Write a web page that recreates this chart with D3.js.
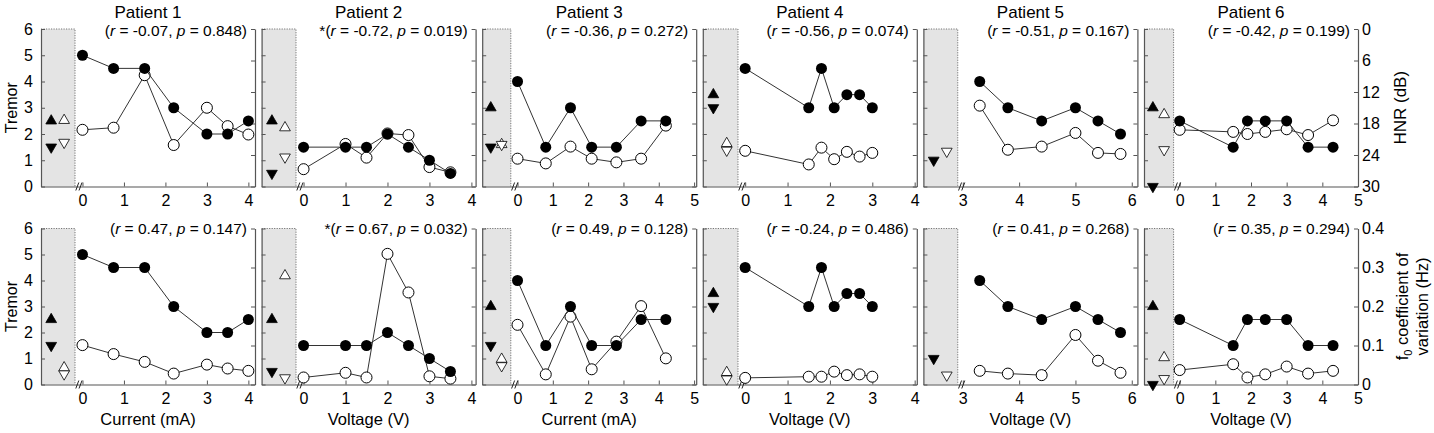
<!DOCTYPE html>
<html>
<head>
<meta charset="utf-8">
<script src="https://cdn.jsdelivr.net/npm/d3@7"></script>
<style>
  body { margin: 0; background: #fff; }
  text { font-family: "Liberation Sans", Arial, sans-serif; fill: #000; }
</style>
</head>
<body>
<svg id="chart" width="1434" height="433"></svg>
<script>
// ---- data ----
const patients = ["Patient 1", "Patient 2", "Patient 3", "Patient 4", "Patient 5", "Patient 6"];
const xLabels = ["Current (mA)", "Voltage (V)", "Current (mA)", "Voltage (V)", "Voltage (V)", "Voltage (V)"];
const xTicks = [[0, 1, 2, 3, 4], [0, 1, 2, 3, 4], [0, 1, 2, 3, 4, 5], [0, 1, 2, 3, 4], [3, 4, 5, 6], [0, 1, 2, 3, 4, 5]];
const tremorTicks = [0, 1, 2, 3, 4, 5, 6];
const hnrTicks = [0, 6, 12, 18, 24, 30];
const cvTicks = [0, 0.1, 0.2, 0.3, 0.4];

// stimulation amplitude per patient
const stim = [
  [0, 0.75, 1.5, 2.2, 3, 3.5, 4],
  [0, 1, 1.5, 2, 2.5, 3, 3.5],
  [0, 0.8, 1.5, 2.1, 2.8, 3.5, 4.2],
  [0, 1.5, 1.8, 2.1, 2.4, 2.7, 3],
  [3.3, 3.8, 4.4, 5, 5.4, 5.8],
  [0, 1.5, 1.9, 2.4, 3, 3.6, 4.3]
];
// tremor rating (filled circles)
const tremor = [
  [5, 4.5, 4.5, 3, 2, 2, 2.5],
  [1.5, 1.5, 1.5, 2, 1.5, 1, 0.5],
  [4, 1.5, 3, 1.5, 1.5, 2.5, 2.5],
  [4.5, 3, 4.5, 3, 3.5, 3.5, 3],
  [4, 3, 2.5, 3, 2.5, 2],
  [2.5, 1.5, 2.5, 2.5, 2.5, 1.5, 1.5]
];
// HNR in dB (open circles, top row)
const hnr = [
  [19.2, 18.8, 8.8, 22.1, 15.0, 18.5, 20.1],
  [26.7, 21.9, 24.5, 19.9, 20.2, 26.3, 27.3],
  [24.7, 25.6, 22.4, 24.7, 25.4, 24.7, 18.4],
  [23.2, 25.8, 22.6, 24.8, 23.4, 24.3, 23.6],
  [14.6, 23.0, 22.4, 19.8, 23.6, 23.8],
  [19.2, 19.6, 20.0, 19.6, 19.1, 20.2, 17.4]
];
// f0 coefficient of variation (open circles, bottom row)
const f0cv = [
  [0.101, 0.078, 0.058, 0.028, 0.051, 0.041, 0.035],
  [0.018, 0.030, 0.018, 0.335, 0.236, 0.021, 0.015],
  [0.153, 0.026, 0.174, 0.039, 0.110, 0.201, 0.067],
  [0.017, 0.020, 0.020, 0.033, 0.024, 0.026, 0.020],
  [0.035, 0.028, 0.024, 0.127, 0.061, 0.030],
  [0.037, 0.052, 0.018, 0.026, 0.046, 0.028, 0.035]
];
// off-stimulation values (triangles in the shaded box), null = not shown
const tremorUp = [2.5, 2.5, 3, 3.5, null, 3];
const tremorDown = [1.5, 0.5, 1.5, 3, 1, 0];
const hnrUp = [17.4, 18.8, 22.0, 21.8, null, 16.3];
const hnrDown = [21.6, 24.4, 22.0, 23.1, 23.3, 23.0];
const cvUp = [0.043, 0.279, 0.065, 0.031, null, 0.069];
const cvDown = [0.027, 0.017, 0.048, 0.014, 0.024, 0.015];

// correlation stats
const hnrR = ["-0.07", "-0.72", "-0.36", "-0.56", "-0.51", "-0.42"];
const hnrP = ["0.848", "0.019", "0.272", "0.074", "0.167", "0.199"];
const cvR = ["0.47", "0.67", "0.49", "-0.24", "0.41", "0.35"];
const cvP = ["0.147", "0.032", "0.128", "0.486", "0.268", "0.294"];

// ---- layout ----
const xDomains = [[-1, 4.16], [-1, 4.1], [-1, 5.06], [-1, 4.05], [2.3, 6.1], [-1, 5]];
const grayEnd = [-0.18, -0.18, -0.19, -0.17, 2.91, -0.17];
const panelX0 = 41, panelStep = 220.6, panelW = 214;
const rows = [
  { top: 29, bottom: 186.5, statY: 35.5 },
  { top: 228.5, bottom: 384.5, statY: 233.5 }
];
const axisColor = "#555";
const lineColor = "#333";

const svg = d3.select("#chart");

rows.forEach((row, ri) => {
  const openVals = ri === 0 ? hnr : f0cv;
  const openUp = ri === 0 ? hnrUp : cvUp;
  const openDown = ri === 0 ? hnrDown : cvDown;
  const rVals = ri === 0 ? hnrR : cvR;
  const pVals = ri === 0 ? hnrP : cvP;

  patients.forEach((name, i) => {
    const L = panelX0 + i * panelStep;
    const R = L + panelW;
    const g = svg.append("g");

    const x = d3.scaleLinear().domain(xDomains[i]).range([L, R]);
    const yT = d3.scaleLinear().domain([0, 6]).range([row.bottom, row.top]);
    const y2 = ri === 0
      ? d3.scaleLinear().domain([0, 30]).range([row.top, row.bottom])
      : d3.scaleLinear().domain([0, 0.4]).range([row.bottom, row.top]);

    // shaded off-stimulation box
    const gx = x(grayEnd[i]);
    g.append("rect")
      .attr("x", L).attr("y", row.top)
      .attr("width", gx - L).attr("height", row.bottom - row.top)
      .attr("fill", "#e4e4e4");
    g.append("path")
      .attr("d", `M${L},${row.top}H${gx}V${row.bottom}`)
      .attr("fill", "none")
      .attr("stroke", "#777")
      .attr("stroke-dasharray", "1.2,1.3");

    // axes (ticks point inward)
    const left = g.append("g")
      .attr("transform", `translate(${L},0)`)
      .call(d3.axisLeft(yT).tickValues(tremorTicks).tickSize(-4).tickSizeOuter(0)
        .tickPadding(8).tickFormat(i === 0 ? d3.format("d") : ""));
    const right = g.append("g")
      .attr("transform", `translate(${R},0)`)
      .call(d3.axisRight(y2).tickValues(ri === 0 ? hnrTicks : cvTicks).tickSize(-4).tickSizeOuter(0)
        .tickPadding(4).tickFormat(i === 5 ? d3.format("~g") : ""));
    const bottom = g.append("g")
      .attr("transform", `translate(0,${row.bottom})`)
      .call(d3.axisBottom(x).tickValues(xTicks[i]).tickSize(-4).tickSizeOuter(0)
        .tickPadding(8.5).tickFormat(d3.format("d")));

    [left, right, bottom].forEach(a => {
      a.select(".domain").attr("stroke", axisColor).attr("stroke-width", 1.2);
      a.selectAll(".tick line").attr("stroke", axisColor);
      a.selectAll("text")
        .style("font-family", '"Liberation Sans", Arial, sans-serif')
        .style("font-size", "16px")
        .attr("fill", "#000");
    });

    // axis break marks
    [0, 3.2].forEach(off => {
      g.append("line")
        .attr("x1", gx + 0.8 + off).attr("y1", row.bottom + 4)
        .attr("x2", gx + 3.8 + off).attr("y2", row.bottom - 4)
        .attr("stroke", "#222").attr("stroke-width", 1);
    });

    // open series (HNR / f0 CV)
    const openPts = stim[i].map((s, k) => [s, openVals[i][k]]);
    g.append("path")
      .datum(openPts)
      .attr("d", d3.line().x(d => x(d[0])).y(d => y2(d[1])))
      .attr("fill", "none").attr("stroke", lineColor).attr("stroke-width", 1);
    g.selectAll(".open")
      .data(openPts)
      .join("circle")
      .attr("cx", d => x(d[0])).attr("cy", d => y2(d[1]))
      .attr("r", 5.5)
      .attr("fill", "#fff").attr("stroke", "#000").attr("stroke-width", 1);

    // filled series (tremor)
    const tremPts = stim[i].map((s, k) => [s, tremor[i][k]]);
    g.append("path")
      .datum(tremPts)
      .attr("d", d3.line().x(d => x(d[0])).y(d => yT(d[1])))
      .attr("fill", "none").attr("stroke", lineColor).attr("stroke-width", 1);
    g.selectAll(".filled")
      .data(tremPts)
      .join("circle")
      .attr("cx", d => x(d[0])).attr("cy", d => yT(d[1]))
      .attr("r", 5.5)
      .attr("fill", "#000");

    // off-stimulation triangles
    const gw = gx - L;
    const tri = d3.symbol().type(d3.symbolTriangle).size(50);
    const tris = [
      { v: tremorUp[i], y: yT, cx: L + 0.3 * gw, rot: 0, fill: "#000" },
      { v: tremorDown[i], y: yT, cx: L + 0.3 * gw, rot: 180, fill: "#000" },
      { v: openUp[i], y: y2, cx: L + 0.68 * gw, rot: 0, fill: "#fff" },
      { v: openDown[i], y: y2, cx: L + 0.68 * gw, rot: 180, fill: "#fff" }
    ].filter(t => t.v !== null);
    tris.forEach(t => {
      g.append("path")
        .attr("d", tri())
        .attr("transform", `translate(${t.cx},${t.y(t.v)}) rotate(${t.rot})`)
        .attr("fill", t.fill)
        .attr("stroke", "#000").attr("stroke-width", 0.8);
    });

    // titles and stats
    if (ri === 0) {
      g.append("text")
        .attr("x", (L + R) / 2).attr("y", 17.5)
        .attr("text-anchor", "middle")
        .style("font-size", "17px")
        .text(name);
    } else {
      g.append("text")
        .attr("x", (L + R) / 2).attr("y", 424.5)
        .attr("text-anchor", "middle")
        .style("font-size", "16.5px")
        .text(xLabels[i]);
    }
    const sig = +pVals[i] < 0.05 ? "*" : "";
    const st = g.append("text")
      .attr("x", R - 8).attr("y", row.statY)
      .attr("text-anchor", "end")
      .style("font-size", "15.5px");
    st.append("tspan").text(sig + "(");
    st.append("tspan").style("font-style", "italic").text("r");
    st.append("tspan").text(` = ${rVals[i]}, `);
    st.append("tspan").style("font-style", "italic").text("p");
    st.append("tspan").text(` = ${pVals[i]})`);
  });

  // left y label
  svg.append("text")
    .attr("transform", `translate(17,${(row.top + row.bottom) / 2}) rotate(-90)`)
    .attr("text-anchor", "middle")
    .style("font-size", "16px")
    .text("Tremor");
});

// right y labels
svg.append("text")
  .attr("transform", `translate(1406,${(rows[0].top + rows[0].bottom) / 2}) rotate(-90)`)
  .attr("text-anchor", "middle")
  .style("font-size", "17px")
  .text("HNR (dB)");

const f0Label = svg.append("text")
  .attr("transform", `translate(1407.5,${(rows[1].top + rows[1].bottom) / 2}) rotate(-90)`)
  .attr("text-anchor", "middle")
  .style("font-size", "16.5px");
f0Label.append("tspan").text("f");
f0Label.append("tspan").attr("dy", 4).style("font-size", "11px").text("0");
f0Label.append("tspan").attr("dy", -4).text(" coefficient of");

svg.append("text")
  .attr("transform", `translate(1427.5,${(rows[1].top + rows[1].bottom) / 2}) rotate(-90)`)
  .attr("text-anchor", "middle")
  .style("font-size", "16.5px")
  .text("variation (Hz)");
</script>
</body>
</html>
